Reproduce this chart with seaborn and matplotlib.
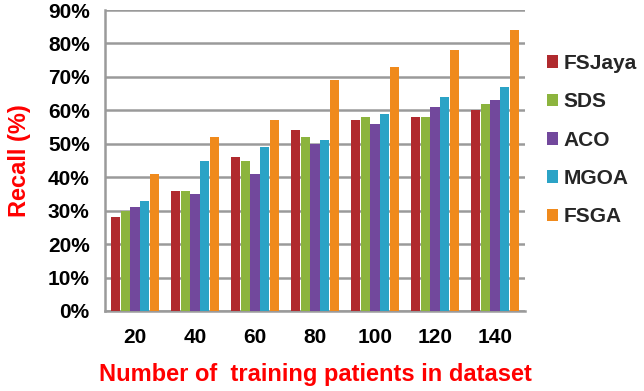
import matplotlib
matplotlib.use("Agg")
import matplotlib.pyplot as plt
import seaborn as sns
import pandas as pd
from matplotlib.ticker import PercentFormatter, FixedLocator

categories = ["20", "40", "60", "80", "100", "120", "140"]
fsjaya = [28, 36, 46, 54, 57, 58, 60]
sds = [30, 36, 45, 52, 58, 58, 62]
aco = [31, 35, 41, 50, 56, 61, 63]
mgoa = [33, 45, 49, 51, 59, 64, 67]
fsga = [41, 52, 57, 69, 73, 78, 84]
methods = ["FSJaya", "SDS", "ACO", "MGOA", "FSGA"]
colors = ["#B02A2E", "#8CB43E", "#72489C", "#2BA3C6", "#F08A1C"]

rows = []
for name, vals in zip(methods, [fsjaya, sds, aco, mgoa, fsga]):
    for c, v in zip(categories, vals):
        rows.append({"patients": c, "method": name, "recall": v})
df = pd.DataFrame(rows)

sns.set_theme(style="white")
plt.rcParams['font.family'] = ['Liberation Sans', 'DejaVu Sans']

fig = plt.figure(figsize=(6.44, 3.91), dpi=100)
ax = fig.add_axes([105/644, 1-311/391, 420/644, 301/391])

sns.barplot(data=df, x="patients", y="recall", hue="method", order=categories,
            hue_order=methods, palette=colors, saturation=1, width=0.8, gap=0.06,
            edgecolor="none", ax=ax, legend=True, zorder=3)

ax.set_ylim(0, 90)
ax.set_xlim(-0.5, 6.5)
ax.yaxis.set_major_locator(FixedLocator(range(0, 91, 10)))
ax.yaxis.set_major_formatter(PercentFormatter(decimals=0))
ax.grid(axis="y", color="#9a9a9a", linewidth=1.8, zorder=0)
for s in ["top", "right"]:
    ax.spines[s].set_visible(False)
for s in ["left", "bottom"]:
    ax.spines[s].set_color("#9a9a9a")
    ax.spines[s].set_linewidth(1.8)

ax.tick_params(axis="y", length=7, width=1.8, color="#9a9a9a", pad=4,
               labelsize=15, labelcolor="black")
ax.tick_params(axis="x", which="major", length=0, pad=12, labelsize=15, labelcolor="black")
ax.set_xticks([i - 0.5 for i in range(8)], minor=True)
ax.tick_params(axis="x", which="minor", length=7, width=1.8, color="#9a9a9a", direction="out")
for lbl in ax.get_xticklabels() + ax.get_yticklabels():
    lbl.set_fontweight("bold")

ax.set_xlabel("Number of  training patients in dataset", color="#FF0000",
              fontsize=17, fontweight="bold", labelpad=12)
ax.set_ylabel("Recall (%)", color="#FF0000", fontsize=17, fontweight="bold", labelpad=12)

handles, labels = ax.get_legend_handles_labels()
ax.get_legend().remove()
fig.legend(handles, labels, loc="upper left", bbox_to_anchor=(547/644, 1-54/391),
           frameon=False, handlelength=0.55, handleheight=0.55, handletextpad=0.25,
           labelspacing=0.93, borderaxespad=0, borderpad=0,
           prop={"weight": "bold", "size": 15})

fig.savefig("out.png", dpi=100)
